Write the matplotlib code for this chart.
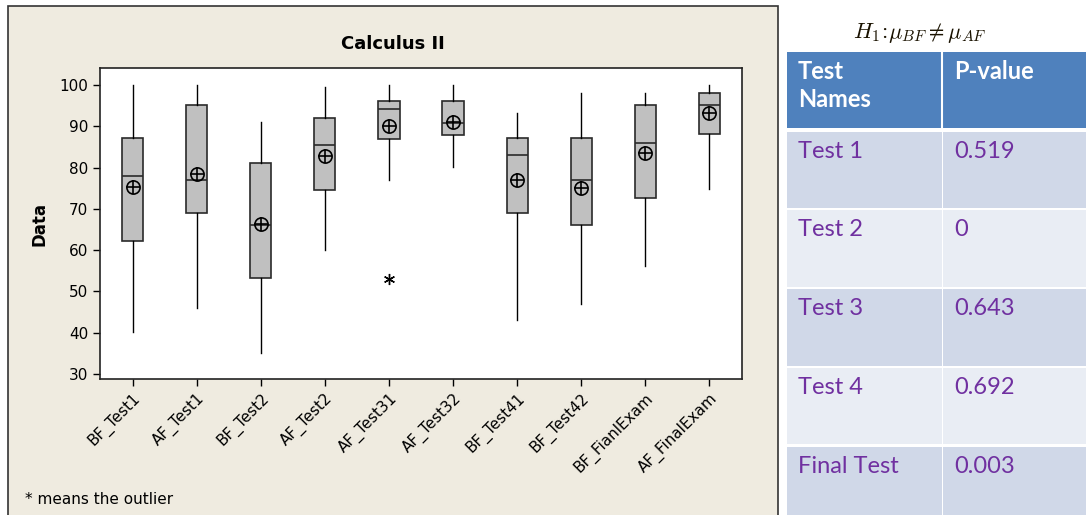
import matplotlib
matplotlib.use("Agg")
import matplotlib.pyplot as plt
from matplotlib.patches import Rectangle

# ─── Box plot data ───────────────────────────────────────────────────────────
labels   = ["BF_Test1", "AF_Test1", "BF_Test2", "AF_Test2", "AF_Test31",
            "AF_Test32", "BF_Test41", "BF_Test42", "BF_FianlExam", "AF_FinalExam"]
whis_lo  = [40.2, 46.0, 35.1, 60.1, 76.9, 80.1, 43.0, 46.9, 56.1, 74.9]
q1       = [62.1, 69.1, 53.3, 74.6, 87.0, 87.9, 69.1, 66.2, 72.7, 88.2]
medians  = [77.9, 76.9, 66.2, 85.4, 94.2, 90.8, 83.1, 76.9, 86.0, 95.2]
q3       = [87.2, 95.2, 81.1, 91.9, 96.2, 96.2, 87.2, 87.2, 95.2, 98.1]
whis_hi  = [100, 100, 91.0, 99.4, 100, 100, 93.2, 98.1, 98.1, 100]
means    = [75.4, 78.5, 66.4, 82.9, 90.0, 91.0, 77.0, 75.0, 83.6, 93.2]
outliers = [[], [], [], [], [53.1], [], [], [], [], []]

# ─── Table data ──────────────────────────────────────────────────────────────
test_names = ["Test 1", "Test 2", "Test 3", "Test 4", "Final Test"]
p_values   = ["0.519", "0", "0.643", "0.692", "0.003"]

W, H = 1086, 515
fig = plt.figure(figsize=(W/100, H/100), dpi=100)
fig.patch.set_facecolor("white")

def fx(px): return px / W
def fy(py): return 1 - py / H

# beige Minitab panel (behind the axes)
fig.patches.append(Rectangle((fx(8), -0.05), fx(778) - fx(8), fy(6) + 0.05,
                             transform=fig.transFigure, facecolor="#EFEBE0",
                             edgecolor="#333333", linewidth=1.2, zorder=-1))

font = ["DejaVu Sans"]
ax = fig.add_axes([fx(100), fy(379), fx(742) - fx(100), fy(68) - fy(379)])
ax.set_facecolor("white")

stats = []
for i in range(len(labels)):
    stats.append(dict(whislo=whis_lo[i], q1=q1[i], med=medians[i], q3=q3[i],
                      whishi=whis_hi[i], fliers=outliers[i], label=labels[i]))
pos = list(range(1, len(labels) + 1))
ax.bxp(stats, positions=pos, widths=0.33, patch_artist=True, showcaps=False,
       boxprops=dict(facecolor="#C0C0C0", edgecolor="#2a2a2a", linewidth=1.2),
       medianprops=dict(color="#2a2a2a", linewidth=1.2),
       whiskerprops=dict(color="black", linewidth=1.0),
       flierprops=dict(marker=(6, 2, 0), markersize=8, markeredgecolor="black",
                       markeredgewidth=1.0, linestyle="none"))
ax.plot(pos, means, "o", markersize=9.5, markerfacecolor="none",
        markeredgecolor="black", markeredgewidth=1.2, zorder=5)
ax.plot(pos, means, "+", markersize=9.5, markeredgecolor="black",
        markeredgewidth=1.2, zorder=5)

ax.set_xlim(0.49, 10.51)
ax.set_ylim(28.8, 104.1)
ax.set_yticks(range(30, 101, 10))
ax.set_xticks(pos)
ax.set_xticklabels(labels, rotation=45, ha="right", rotation_mode="anchor",
                   fontsize=11, family=font)
for t in ax.get_yticklabels():
    t.set_family(font); t.set_fontsize(11)
ax.tick_params(direction="out", length=5, width=1, colors="black")
for s in ax.spines.values():
    s.set_linewidth(1.2); s.set_color("#222222")
ax.set_ylabel("Data", fontsize=12, fontweight="bold", labelpad=8)

fig.text(fx(393), fy(44), "Calculus II", ha="center", va="center",
         fontsize=13, fontweight="bold", family=font)
fig.text(fx(25), fy(500), "* means the outlier", ha="left", va="center",
         fontsize=11, family=font)

# ─── Table ───────────────────────────────────────────────────────────────────
fig.text(fx(920), fy(33), r"$H_1\!:\!\mu_{BF} \neq \mu_{AF}$", ha="center",
         va="center", fontsize=16, math_fontfamily="cm", color="#1a1200")

col_x = [787, 943, 1090]
tfont = ["Lato", "DejaVu Sans"]
fig.patches.append(Rectangle((fx(col_x[0]), fy(128)), fx(col_x[2]) - fx(col_x[0]),
                             fy(52) - fy(128), transform=fig.transFigure,
                             facecolor="#4F81BD", edgecolor="none"))
fig.lines.append(plt.Line2D([fx(942), fx(942)], [fy(52), fy(128)],
                            transform=fig.transFigure, color="white", lw=1.5))
fig.text(fx(798), fy(60), "Test\nNames", ha="left", va="top", fontsize=17,
         fontweight="bold", color="white", family=tfont, linespacing=1.25)
fig.text(fx(954), fy(60), "P-value", ha="left", va="top", fontsize=17,
         fontweight="bold", color="white", family=tfont)

row_top = [132, 210, 289, 368, 447]
row_bot = [208, 287, 366, 444, 520]
row_col = ["#D0D8E8", "#E9EDF4", "#D0D8E8", "#E9EDF4", "#D0D8E8"]
for i in range(len(test_names)):
    for j in range(2):
        fig.patches.append(Rectangle((fx(col_x[j]), fy(row_bot[i])),
                                     fx(col_x[j + 1] - 1) - fx(col_x[j]),
                                     fy(row_top[i]) - fy(row_bot[i]),
                                     transform=fig.transFigure,
                                     facecolor=row_col[i], edgecolor="none"))
    fig.text(fx(798), fy(row_top[i] + 9), test_names[i], ha="left", va="top",
             fontsize=17, color="#7030A0", family=tfont)
    fig.text(fx(954), fy(row_top[i] + 9), p_values[i], ha="left", va="top",
             fontsize=17, color="#7030A0", family=tfont)

fig.savefig("out.png", dpi=100)
